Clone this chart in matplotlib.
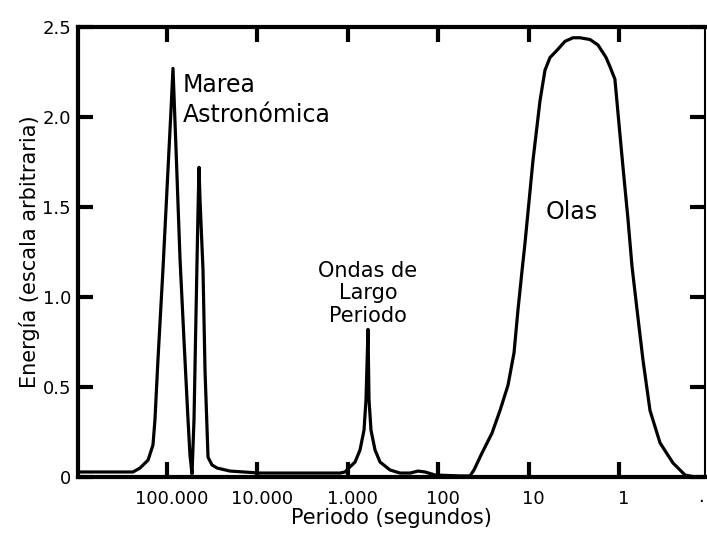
#!/usr/bin/env python3
# -*- coding: utf-8 -*-
"""
	Espectro de energia de las oscilaciones del nivel del mar
"""
import matplotlib
matplotlib.use('Agg')
import matplotlib.pyplot as plt
import matplotlib.transforms as mtransforms


# Data - periodo (s) y energia (escala arbitraria)
periodo = [
	966000, 237700, 199000, 162000, 143000, 136000, 126000, 111000, 97500, 90300,
	85900, 79500, 71800, 64900, 58600, 55700, 52900,
	50280, 48400, 46570, 45400, 44260, 43150, 39990, 37980, 35190, 31790, 27980,
	20100, 9360, 1220,
	1074, 946, 832, 733, 662, 629, 598, 583, 554, 500, 440, 341, 265,
	205, 167, 140, 108, 57,
	44.5, 40.2, 32.8, 25.4, 20.7, 16.9, 14.5, 13.1, 11.8, 10.96, 8.94, 7.48,
	6.59, 5.80, 4.86, 3.96, 3.23, 2.70, 2.09, 1.71, 1.39, 1.26, 1.11,
	1.00, 0.903, 0.795, 0.718, 0.632, 0.543, 0.454, 0.352, 0.253, 0.186, 0.144,
]

energia = [
	0.028, 0.028, 0.05, 0.094, 0.178, 0.317, 0.65, 1.15, 1.71, 2.04,
	2.27, 1.82, 1.21, 0.76, 0.32, 0.12, 0.017,
	0.32, 0.76, 1.2, 1.48, 1.72, 1.54, 1.15, 0.59, 0.11, 0.067, 0.05,
	0.033, 0.022, 0.022,
	0.028, 0.056, 0.083, 0.15, 0.26, 0.43, 0.82, 0.43, 0.26, 0.15, 0.083, 0.039, 0.022,
	0.022, 0.033, 0.028, 0.011, 0.006,
	0.006, 0.039, 0.133, 0.244, 0.37, 0.51, 0.69, 0.93, 1.15, 1.30, 1.76, 2.09,
	2.26, 2.33, 2.37, 2.42, 2.44, 2.44, 2.43, 2.40, 2.33, 2.28, 2.21,
	1.96, 1.72, 1.43, 1.17, 0.93, 0.65, 0.37, 0.19, 0.078, 0.011, 0.0,
]

x_ticks = [100000, 10000, 1000, 100, 10, 1]
x_labels = ['100.000', '10.000', '1.000', '100', '10', '1']

y_ticks = [0, 0.5, 1.0, 1.5, 2.0, 2.5]
y_labels = ['0', '0.5', '1.0', '1.5', '2.0', '2.5']


# Figure
plt.rcParams['font.family'] = ['DejaVu Sans']

fig = plt.figure(figsize=(7.07, 5.39), dpi=100)
ax = fig.add_axes([0.1103, 0.115, 0.8868, 0.835])

ax.plot(periodo, energia, color='black', lw=2.3, solid_joinstyle='round')

ax.set_xscale('log')
ax.set_xlim(966000, 0.112)
ax.set_ylim(0, 2.5)

ax.set_xticks(x_ticks)
ax.set_xticklabels(x_labels)
ax.minorticks_off()
ax.set_yticks(y_ticks)
ax.set_yticklabels(y_labels)

ax.tick_params(direction='in', length=11, width=3, labelsize=13,
			   top=True, right=True, color='black')
ax.tick_params(axis='x', pad=9)
ax.tick_params(axis='y', pad=5)

# las etiquetas del eje x estan algo corridas a la derecha
shift = mtransforms.ScaledTranslation(5 / 100, 0, fig.dpi_scale_trans)
for lbl in ax.get_xticklabels():
	lbl.set_transform(lbl.get_transform() + shift)

for side in ['left', 'top', 'bottom']:
	ax.spines[side].set_linewidth(3)
ax.spines['right'].set_linewidth(1.5)

ax.set_xlabel('Periodo (segundos)', fontsize=15, labelpad=0)
ax.set_ylabel('Energía (escala arbitraria)', fontsize=15, labelpad=2)


# Etiquetas
ax.text(66500, 2.18, 'Marea', fontsize=17, va='center', ha='left')
ax.text(66500, 2.01, 'Astronómica', fontsize=17, va='center', ha='left')
ax.text(598, 1.02, 'Ondas de\nLargo\nPeriodo', fontsize=15, va='center',
		ha='center', linespacing=1.15)
ax.text(3.31, 1.47, 'Olas', fontsize=17, va='center', ha='center')
ax.text(0.125, -0.11, '.', fontsize=13, va='center', ha='center')

fig.savefig('out.png', dpi=100)
